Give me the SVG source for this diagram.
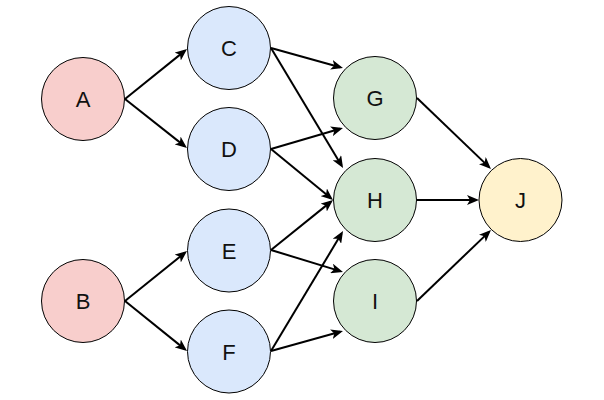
<svg xmlns="http://www.w3.org/2000/svg" width="604" height="400" viewBox="0 0 604 400">
  <style>
    .node circle { stroke: #000000; stroke-width: 1; }
    .node text { font-family: "Liberation Sans", Arial, Helvetica, sans-serif; font-size: 22px; fill: #111111; text-anchor: middle; }
    .red circle { fill: #f8cecc; }
    .blue circle { fill: #dae8fc; }
    .green circle { fill: #d5e8d4; }
    .yellow circle { fill: #fff2cc; }
    .edges line { stroke: #000000; stroke-width: 2; fill: none; marker-end: url(#arrow); }
  </style>
  <defs>
    <marker id="arrow" markerUnits="userSpaceOnUse" markerWidth="12" markerHeight="10" viewBox="0 0 12 10" refX="9" refY="5" orient="auto">
      <path d="M0,0 L12,5 L0,10 L3,5 Z" fill="#000000"/>
    </marker>
  </defs>
  <rect width="604" height="400" fill="#ffffff"/>
  <g id="connectors" class="edges">
    <line x1="125" y1="99" x2="184.7" y2="50.9"/>
    <line x1="125" y1="99" x2="184.6" y2="146.1"/>
    <line x1="125" y1="301" x2="184.7" y2="252.9"/>
    <line x1="125" y1="301" x2="184.7" y2="349.1"/>
    <line x1="271" y1="48" x2="340.1" y2="67.2"/>
    <line x1="271" y1="48" x2="341.5" y2="165.4"/>
    <line x1="271" y1="149" x2="340.1" y2="128.8"/>
    <line x1="271" y1="149" x2="330.7" y2="198.1"/>
    <line x1="271" y1="250" x2="330.7" y2="201.9"/>
    <line x1="271" y1="250" x2="340.1" y2="271.1"/>
    <line x1="271" y1="351" x2="341.5" y2="233.6"/>
    <line x1="271" y1="351" x2="340.1" y2="331.8"/>
    <line x1="417" y1="98" x2="488.8" y2="166.9"/>
    <line x1="417" y1="200" x2="476" y2="200"/>
    <line x1="417" y1="301" x2="488.8" y2="232.1"/>
  </g>
  <g id="node-A" class="node red"><circle cx="83" cy="99" r="41.5"/><text x="83" y="107">A</text></g>
  <g id="node-B" class="node red"><circle cx="83" cy="301" r="41.5"/><text x="83" y="309">B</text></g>
  <g id="node-C" class="node blue"><circle cx="229" cy="48" r="41.5"/><text x="229" y="56">C</text></g>
  <g id="node-D" class="node blue"><circle cx="229" cy="149" r="41.5"/><text x="229" y="157">D</text></g>
  <g id="node-E" class="node blue"><circle cx="229" cy="250.5" r="41.5"/><text x="229" y="258.5">E</text></g>
  <g id="node-F" class="node blue"><circle cx="229" cy="351.5" r="41.5"/><text x="229" y="359.5">F</text></g>
  <g id="node-G" class="node green"><circle cx="375" cy="98" r="41.5"/><text x="375" y="106">G</text></g>
  <g id="node-H" class="node green"><circle cx="375" cy="200" r="41.5"/><text x="375" y="208">H</text></g>
  <g id="node-I" class="node green"><circle cx="375" cy="301" r="41.5"/><text x="375" y="309">I</text></g>
  <g id="node-J" class="node yellow"><circle cx="520.5" cy="200" r="41.5"/><text x="520.5" y="208">J</text></g>
</svg>
